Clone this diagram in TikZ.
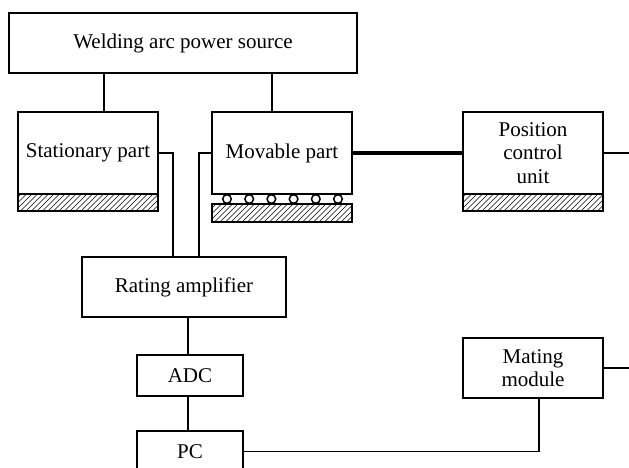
\documentclass[tikz,border=0pt]{standalone}
\usepackage{fontspec}
\setmainfont{Liberation Serif}
\newcommand\hatchband[4]{%
  \begin{scope}
    \clip (#1,#2) rectangle (#3,#4);
    \foreach \i in {0,5.5,...,170} \draw[hatch] (#1+\i-25,#4) -- ++(25,-25);
  \end{scope}
  \draw[conn] (#1,#2) rectangle (#3,#4);}
\begin{document}
\begin{tikzpicture}[x=1pt,y=-1pt,
  box/.style={draw,line width=1.8pt,inner sep=0pt,align=center,font=\fontsize{21}{23.5}\selectfont},
  conn/.style={line width=1.8pt},
  thickconn/.style={line width=3.5pt},
  hatch/.style={line width=0.6pt}]
\useasboundingbox (0,0) rectangle (629,468);
\clip (0,0) rectangle (629,468);

\node[box,minimum width=348pt,minimum height=60pt] (weld) at (183,43) {Welding arc power source};
\node[box,minimum width=140pt,minimum height=82pt] (stat) at (88,153) {Stationary part};
\node[box,minimum width=140pt,minimum height=82pt] (mov) at (282,153) {Movable part};
\node[box,minimum width=140pt,minimum height=82pt] (pos) at (533,153) {Position\\control\\unit};
\node[box,minimum width=204pt,minimum height=60pt] (amp) at (184,287) {Rating amplifier};
\node[box,minimum width=106pt,minimum height=41pt] (adc) at (190,375.5) {ADC};
\node[box,minimum width=106pt,minimum height=41pt] (pc) at (190,451.5) {PC};
\node[box,minimum width=140pt,minimum height=60pt] (mate) at (533,368) {Mating\\module};

% hatched bases
\hatchband{18}{194}{158}{211}
\hatchband{463}{194}{603}{211}
\hatchband{212}{204}{352}{222}
\foreach \cx in {227,249.2,271.4,293.6,315.8,338}
  \draw[line width=1.5pt,fill=white] (\cx,199) circle (4.3pt);

% free ends
\coordinate (posout) at (629,153);
\coordinate (mateout) at (629,368);

% connectors
\draw[conn] (weld.south -| 104,0) -- (stat.north -| 104,0);
\draw[conn] (weld.south -| 272,0) -- (mov.north -| 272,0);
\draw[conn] (stat.east) -- (173,153) -- (amp.north -| 173,0);
\draw[conn] (mov.west) -- (199,153) -- (amp.north -| 199,0);
\draw[thickconn] (mov.east) -- (pos.west);
\draw[conn] (pos.east) -- (posout);
\draw[conn] (amp.south -| 188,0) -- (adc.north -| 188,0);
\draw[conn] (adc.south -| 188,0) -- (pc.north -| 188,0);
\draw[conn] (pc.east) -- (539,451.5) -- (mate.south -| 539,0);
\draw[conn] (mate.east) -- (mateout);
\end{tikzpicture}
\end{document}
